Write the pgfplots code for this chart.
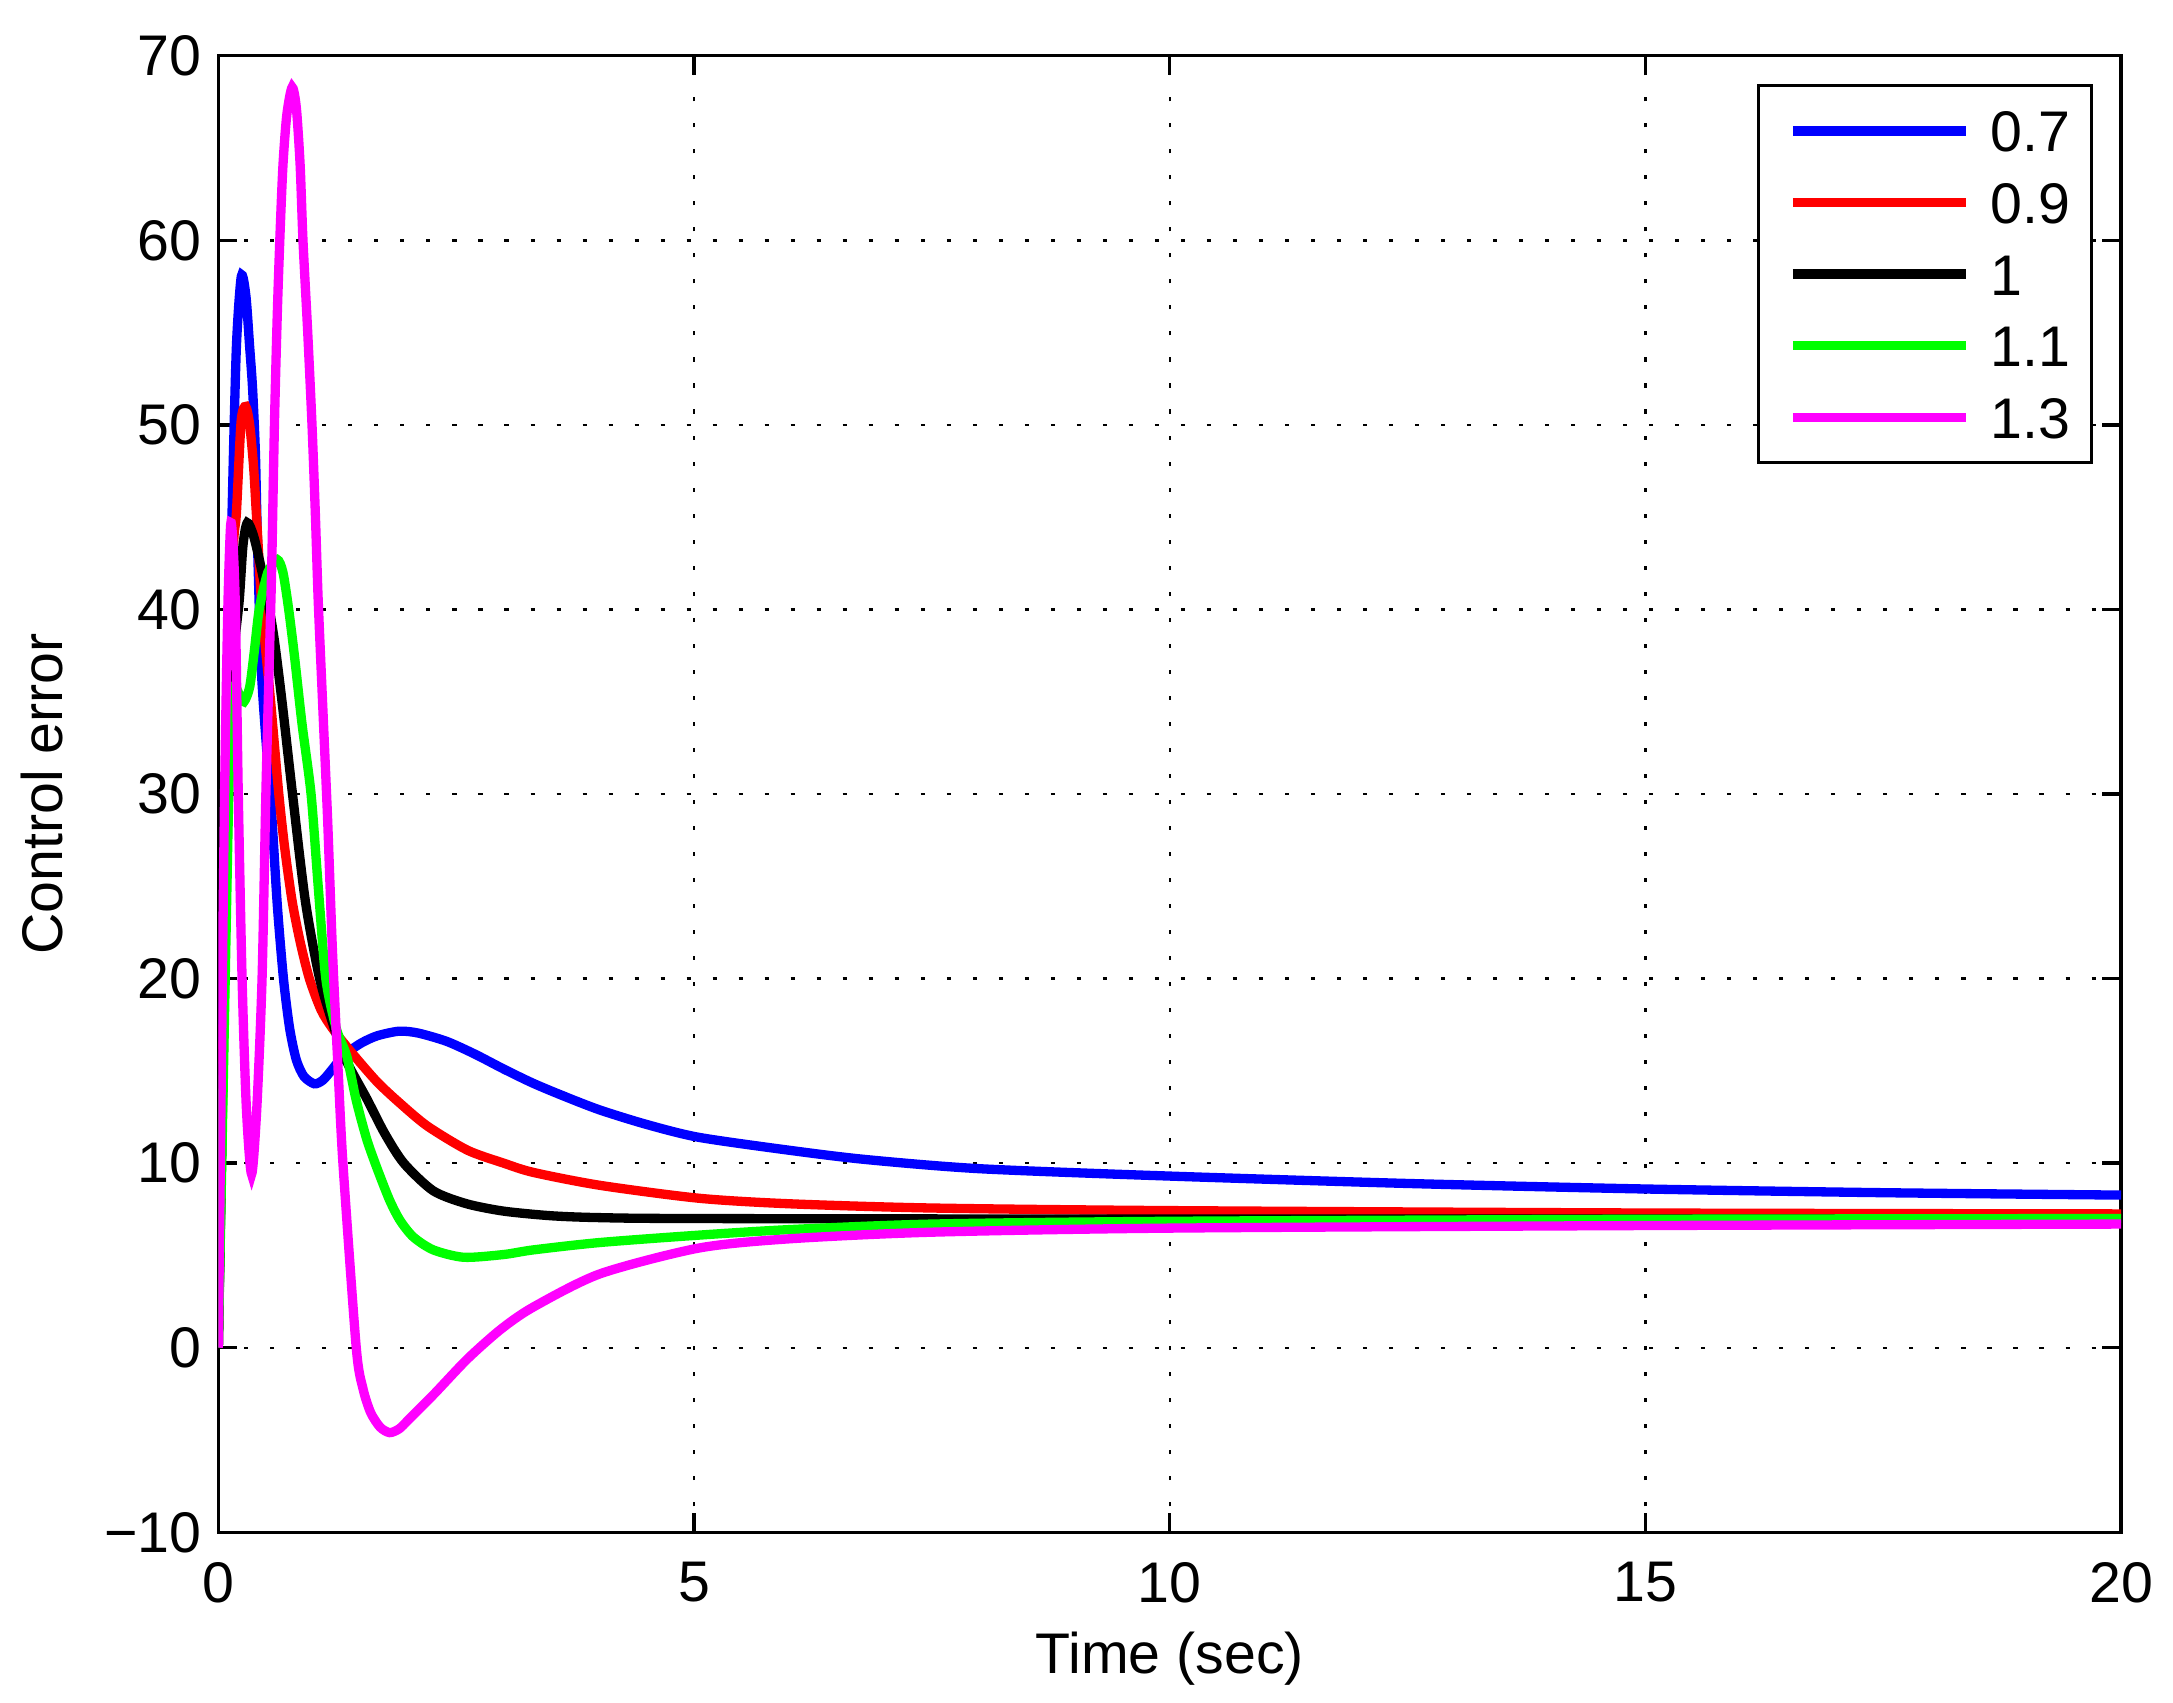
\documentclass[border=0pt]{standalone}
\usepackage{fontspec}
\setmainfont{Liberation Sans}
\usepackage{pgfplots}
\pgfplotsset{compat=1.18}
\begin{document}
\begin{tikzpicture}
\useasboundingbox (-45.73pt,-35.76pt) rectangle (409.47pt,320.98pt);
\begin{axis}[
  scale only axis,
  width=398.6pt, height=309.3pt,
  xmin=0, xmax=20, ymin=-10, ymax=70,
  xtick={0,5,10,15,20},
  ytick={-10,0,10,20,30,40,50,60,70},
  yticklabels={−10,0,10,20,30,40,50,60,70},
  /pgf/number format/assume math mode=true,
  tick align=inside,
  major tick length=4pt,
  axis line style={line width=0.7pt},
  every tick/.style={line width=0.7pt, black},
  grid=major,
  major grid style={black, line width=0.5pt, dash pattern=on 0.85pt off 4.6pt},
  tick label style={font=\fontsize{12}{14}\selectfont},
  xticklabel style={yshift=-2.7pt},
  label style={font=\fontsize{12}{14}\selectfont},
  xlabel={Time (sec)},
  ylabel={Control error},
  xlabel style={at={(axis description cs:0.5,0)}, anchor=center, yshift=-26.5pt},
  ylabel style={at={([xshift=-36.9pt]axis description cs:0,0.5)}, anchor=center},
  legend style={at={(1,1)}, anchor=north east, xshift=-5.93pt, yshift=-5.93pt,
    draw=black, line width=0.6pt, fill=white,
    font=\fontsize{12}{14}\selectfont,
    inner xsep=4.5pt, inner ysep=5.1pt, row sep=6.2pt,
    nodes={inner sep=0pt, text height=8.8pt, text depth=0pt},
    /tikz/every odd column/.append style={column sep=4.2pt}},
  legend cell align=left,
  legend image code/.code={\path[draw=none,fill=none] (0pt,-4.4pt) -- (0pt,4.4pt);\draw[#1] (2.6pt,0pt) -- (38.8pt,0pt);},
  every axis plot/.append style={line width=1.95pt, smooth, tension=0.45},
]
\addplot[color={rgb,1:red,0;green,0;blue,1}] coordinates {
(0,0) (0.04,13) (0.08,27) (0.12,39) (0.148,46) (0.19,54.2) (0.242,58.05)
(0.29,57) (0.33,54.2) (0.36,52) (0.39,48.5) (0.41,44) (0.45,37) (0.50,33)
(0.56,29) (0.62,24) (0.685,20) (0.75,17.3) (0.82,15.6) (0.90,14.7) (1.01,14.3) (1.10,14.5)
(1.20,15.1) (1.32,15.85) (1.50,16.5) (1.67,16.9) (1.90,17.15) (2.10,17.05)
(2.40,16.6) (2.70,15.9) (3.00,15.1) (3.30,14.35) (3.60,13.7) (4.00,12.9)
(4.50,12.1) (5.05,11.4) (6.00,10.7) (6.80,10.2) (8.00,9.7) (10,9.3) (12.5,8.9)
(15,8.6) (17.5,8.4) (20,8.27)};
\addlegendentry{0.7}
\addplot[color={rgb,1:red,1;green,0;blue,0}] coordinates {
(0,0) (0.04,13) (0.08,26) (0.12,36.5) (0.16,43.5) (0.19,45.2) (0.24,50.2) (0.288,51.0)
(0.33,50) (0.37,47.8) (0.40,45.2) (0.46,40) (0.55,35) (0.636,30)
(0.70,27) (0.776,24.2) (0.86,22) (0.957,20) (1.08,18.3) (1.20,17.3) (1.40,16.0)
(1.67,14.4) (1.92,13.2) (2.20,12.0) (2.62,10.7) (3.00,10.0) (3.31,9.5) (4.01,8.8)
(5.05,8.1) (6.0,7.8) (7.5,7.57) (10,7.43) (15,7.3) (20,7.25)};
\addlegendentry{0.9}
\addplot[color=black] coordinates {
(0,0) (0.04,12) (0.08,24) (0.12,33) (0.16,37.5) (0.22,40.5) (0.26,43.5)
(0.305,44.7) (0.37,44.0) (0.44,42.5) (0.52,40.5) (0.59,38.3) (0.67,35) (0.78,30)
(0.915,24.2) (1.065,20) (1.22,17.3) (1.35,15.5) (1.56,13.5) (1.75,11.6)
(1.95,10.0) (2.26,8.5) (2.61,7.8) (3.0,7.4) (3.5,7.15) (4.0,7.05) (5,7.0) (10,6.97)
(20,6.97)};
\addlegendentry{1}
\addplot[color={rgb,1:red,0;green,1;blue,0}] coordinates {
(0,0) (0.04,11) (0.08,22) (0.11,30) (0.14,35.3) (0.18,35.8) (0.22,35.4) (0.27,35.0)
(0.33,35.8) (0.38,37.8) (0.43,40) (0.52,42) (0.62,42.7) (0.68,42) (0.74,40)
(0.80,37.5) (0.88,33.8) (0.975,30) (1.05,25) (1.13,20) (1.24,17.3) (1.35,15.8)
(1.45,13.4) (1.56,11.3) (1.67,9.7) (1.80,8.0) (1.91,6.9) (2.05,6.0) (2.26,5.3)
(2.58,4.9) (3.0,5.05) (3.31,5.3) (4.01,5.7) (5.05,6.1) (6,6.4) (7.5,6.7) (10,6.85)
(15,6.96) (20,7.0)};
\addlegendentry{1.1}
\addplot[color={rgb,1:red,1;green,0;blue,1}] coordinates {
(0,0) (0.03,14) (0.066,30) (0.10,40) (0.13,44.6) (0.155,43.5) (0.18,40) (0.21,30)
(0.25,20) (0.295,13) (0.35,9.4) (0.405,13) (0.46,20) (0.50,30) (0.535,37) (0.56,42)
(0.59,50) (0.62,56) (0.65,60.5) (0.68,64.1) (0.72,66.8) (0.776,68.3) (0.82,67.2)
(0.86,64.1) (0.89,60) (0.94,55) (0.985,50) (1.02,45.2) (1.05,40.5) (1.10,34.5)
(1.15,28.5) (1.20,21.5) (1.26,15) (1.31,10) (1.45,0) (1.52,-2.2) (1.60,-3.5)
(1.70,-4.3) (1.80,-4.6) (1.90,-4.4) (2.0,-3.9) (2.27,-2.5) (2.62,-0.6) (2.97,1.0)
(3.31,2.2) (4.01,4.0) (5.05,5.4) (6,5.9) (7.5,6.26) (10,6.48) (15,6.62) (20,6.7)};
\addlegendentry{1.3}
\end{axis}
\end{tikzpicture}
\end{document}
